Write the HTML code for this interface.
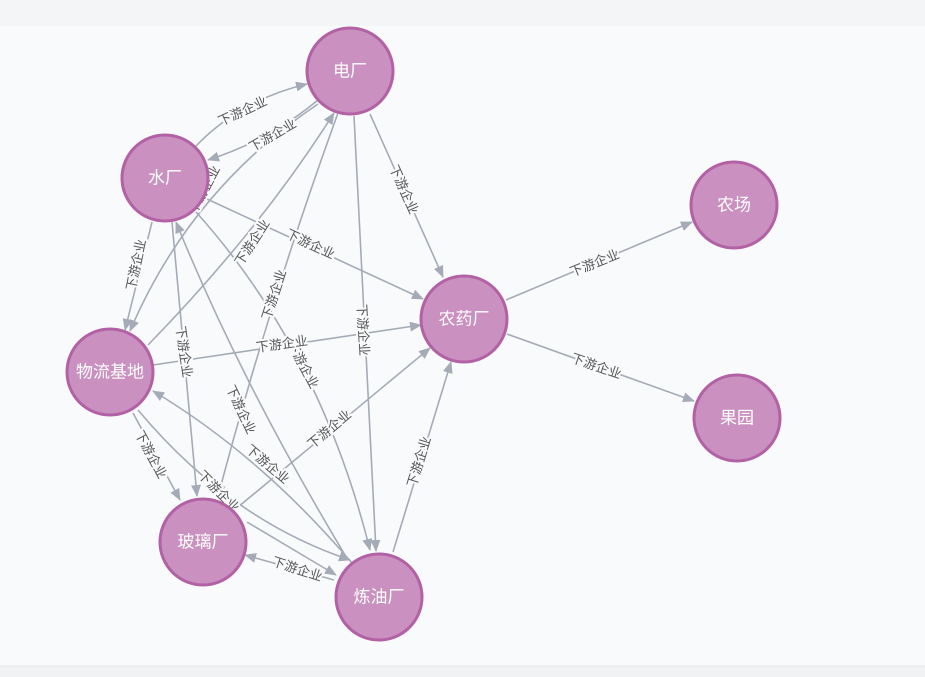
<!DOCTYPE html>
<html><head><meta charset="utf-8"><style>
body{margin:0;width:925px;height:677px;background:#f9fafc;overflow:hidden;font-family:"Liberation Sans","Noto Sans CJK SC",sans-serif}
</style></head><body>
<svg width="925" height="677" xmlns="http://www.w3.org/2000/svg" style="position:absolute;left:0;top:0">
<defs><marker id="a" markerWidth="12" markerHeight="10" refX="11" refY="5" orient="auto" markerUnits="userSpaceOnUse"><path d="M0,0 L12,5 L0,10 Z" fill="#a5abb6"/></marker></defs>
<rect x="0" y="0" width="925" height="26" fill="#f4f5f7"/>
<rect x="0" y="666" width="925" height="11" fill="#f1f2f4"/>
<line x1="0" y1="666" x2="925" y2="666" stroke="#e4e6ea"/>
<g fill="none" stroke="#a5abb6" stroke-width="1.6" marker-end="url(#a)">
<path d="M196,146 Q240,100 307,84"/>
<path d="M318,100 Q270,140 208,160"/>
<path d="M370,114 L443,277"/>
<path d="M207,199 L423,299"/>
<path d="M152,222 L125,330"/>
<path d="M318,104 Q190,190 130,331"/>
<path d="M148,345 Q260,230 334,113"/>
<path d="M338,113 Q270,300 218,496"/>
<path d="M354,116 L376,551"/>
<path d="M172,222 L197,496"/>
<path d="M345,555 Q240,380 176,222"/>
<path d="M196,212 Q320,350 370,550"/>
<path d="M153,365 L421,325"/>
<path d="M133,413 L180,500"/>
<path d="M138,410 Q230,520 350,560"/>
<path d="M352,563 Q260,455 153,391"/>
<path d="M232,512 L430,348"/>
<path d="M393,552 L451,362"/>
<path d="M247,522 L336,575"/>
<path d="M334,580 L245,555"/>
<path d="M506,300 L692,222"/>
<path d="M507,334 L694,401"/>
</g>
<g font-size="13" fill="#555" text-anchor="middle" stroke="#f9fafc" stroke-width="4" paint-order="stroke" dominant-baseline="middle">
<text transform="translate(243,112) rotate(-25)">下游企业</text>
<text transform="translate(273,136) rotate(-30)">下游企业</text>
<text transform="translate(403,190) rotate(66)">下游企业</text>
<text transform="translate(310,245) rotate(25)">下游企业</text>
<text transform="translate(137,265) rotate(-78)">下游企业</text>
<text transform="translate(205,190) rotate(-62)">下游企业</text>
<text transform="translate(253,243) rotate(-57)">下游企业</text>
<text transform="translate(275,295) rotate(-72)">下游企业</text>
<text transform="translate(362,330) rotate(87)">下游企业</text>
<text transform="translate(183,352) rotate(82)">下游企业</text>
<text transform="translate(240,410) rotate(65)">下游企业</text>
<text transform="translate(302,365) rotate(62)">下游企业</text>
<text transform="translate(282,345) rotate(-8)">下游企业</text>
<text transform="translate(150,455) rotate(62)">下游企业</text>
<text transform="translate(218,492) rotate(45)">下游企业</text>
<text transform="translate(267,465) rotate(40)">下游企业</text>
<text transform="translate(330,430) rotate(-40)">下游企业</text>
<text transform="translate(420,462) rotate(-73)">下游企业</text>
<text transform="translate(297,570) rotate(18)">下游企业</text>
<text transform="translate(595,264) rotate(-22)">下游企业</text>
<text transform="translate(596,367) rotate(19)">下游企业</text>
</g>
<g fill="#c990c0" stroke="#b261a5" stroke-width="3">
<circle cx="350" cy="71" r="43"/>
<circle cx="165" cy="178" r="43"/>
<circle cx="110" cy="372" r="43"/>
<circle cx="203" cy="542" r="43"/>
<circle cx="379" cy="597" r="43"/>
<circle cx="464" cy="319" r="43"/>
<circle cx="734" cy="205" r="43"/>
<circle cx="737" cy="418" r="43"/>
</g>
<g font-size="17" fill="#fff" text-anchor="middle" dominant-baseline="middle">
<text x="350" y="72">电厂</text>
<text x="165" y="179">水厂</text>
<text x="110" y="373">物流基地</text>
<text x="203" y="543">玻璃厂</text>
<text x="379" y="598">炼油厂</text>
<text x="464" y="320">农药厂</text>
<text x="734" y="206">农场</text>
<text x="737" y="419">果园</text>
</g>
</svg>
</body></html>
